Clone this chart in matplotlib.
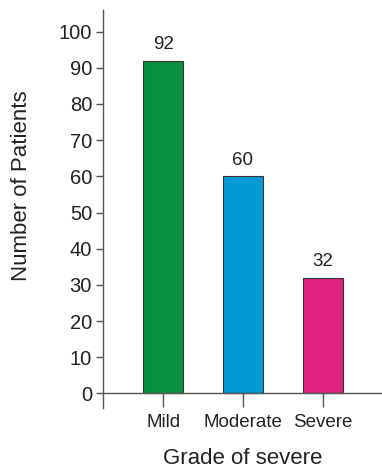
import matplotlib.pyplot as plt

plt.rcParams['font.family'] = ['Liberation Sans', 'DejaVu Sans']

# data
grades = ['Mild', 'Moderate', 'Severe']
patients = [92, 60, 32]
colors = ['#07913f', '#0099d6', '#e0237f']

fig = plt.figure(figsize=(3.82, 4.71), dpi=100)
ax = fig.add_axes([0.27, 0.134, 0.73, 0.845])

x = range(len(grades))
bars = ax.bar(x, patients, width=0.5, color=colors, edgecolor='#333333', linewidth=0.8)
for b, v in zip(bars, patients):
    ax.text(b.get_x() + b.get_width() / 2, v + 2, str(v), ha='center', va='bottom',
            fontsize=13.5, color='#222222')

ax.set_xlim(-0.75, 2.74)
ax.set_ylim(-4, 106)
ax.set_yticks(range(0, 101, 10))
ax.set_xticks(list(x))
ax.set_xticklabels(grades)

ax.spines['top'].set_visible(False)
ax.spines['right'].set_visible(False)
ax.spines['bottom'].set_position(('data', 0))
for s in ('left', 'bottom'):
    ax.spines[s].set_color('#555555')
    ax.spines[s].set_linewidth(1)

ax.tick_params(axis='y', direction='out', length=5, width=1, color='#555555',
               labelsize=14.5, labelcolor='#222222', pad=3)
ax.tick_params(axis='x', direction='out', length=10, width=1, color='#555555',
               labelsize=13.5, labelcolor='#222222', pad=5)

ax.set_ylabel('Number of Patients', fontsize=16, color='#222222')
ax.yaxis.set_label_coords(-0.255, 0.558)
ax.set_xlabel('Grade of severe', fontsize=16, color='#222222', labelpad=12)

fig.savefig('out.png', dpi=100)
